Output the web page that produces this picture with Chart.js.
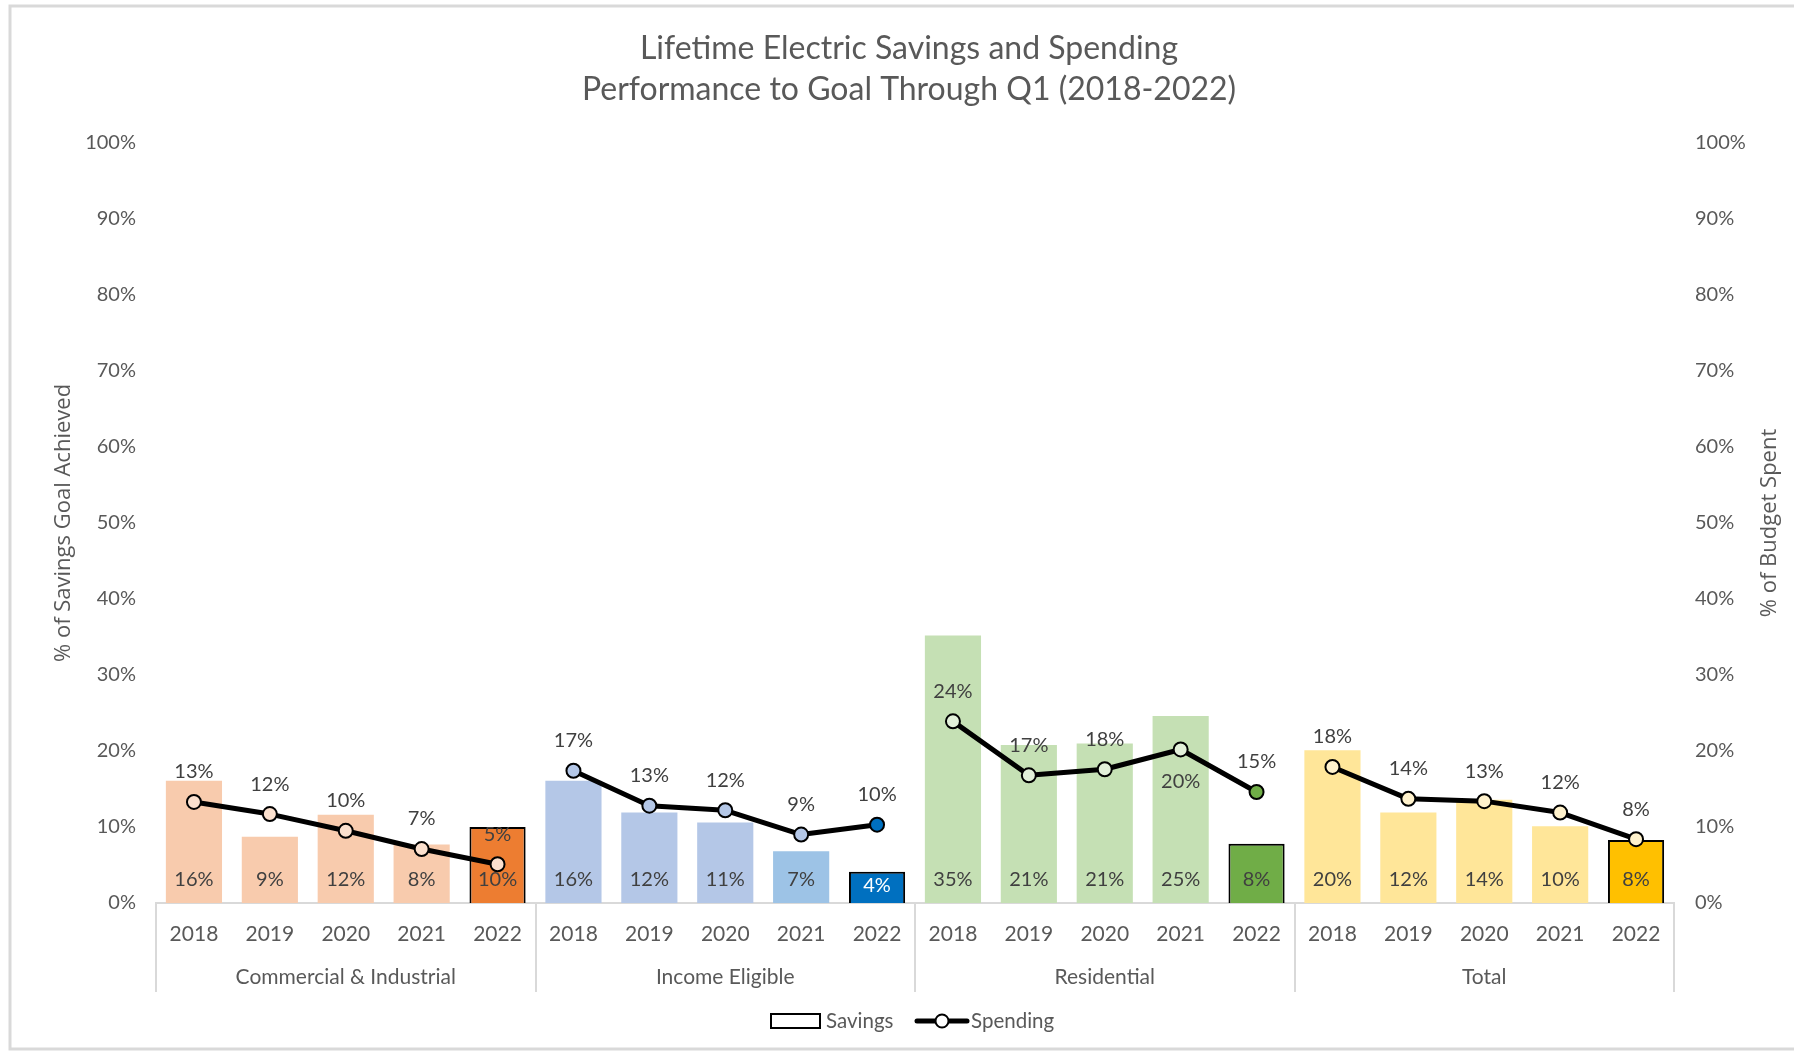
<!DOCTYPE html>
<html>
<head>
<meta charset="utf-8">
<title>Lifetime Electric Savings and Spending</title>
<script src="https://cdn.jsdelivr.net/npm/chart.js@4.4.1/dist/chart.umd.min.js"></script>
<style>
  html, body { margin: 0; padding: 0; background: #ffffff; }
  #wrap { width: 1794px; height: 1051px; }
</style>
</head>
<body>
<div id="wrap"><canvas id="chart" width="1794" height="1051"></canvas></div>
<script>
// Data (percent)
const groups = ['Commercial & Industrial', 'Income Eligible', 'Residential', 'Total'];
const years = ['2018', '2019', '2020', '2021', '2022'];
const savings = [
  16.1, 8.7, 11.6, 7.7, 10.0,
  16.1, 11.9, 10.6, 6.8, 4.1,
  35.2, 20.8, 21.0, 24.6, 7.8,
  20.1, 11.9, 13.6, 10.1, 8.3
];
const spending = [
  13.3, 11.7, 9.5, 7.1, 5.1,
  17.4, 12.8, 12.2, 9.0, 10.3,
  23.9, 16.8, 17.6, 20.2, 14.6,
  17.9, 13.7, 13.4, 11.9, 8.4
];

// Colours per group: past years light, current year dark
const lightFill = ['#F8CBAD', '#B4C7E7', '#C5E0B4', '#FFE699'];
const darkFill  = ['#ED7D31', '#0070C0', '#70AD47', '#FFC000'];
const markerLight = ['#FBE0CE', '#B4C7E7', '#E2F0D9', '#FFF2CC'];
const markerDark  = ['#FBE0CE', '#0070C0', '#70AD47', '#FFF2CC'];

const gray = '#595959';
const labelGray = '#404040';
const textFont = 'Lato, "Liberation Sans", sans-serif';
const titleFont = '"Open Sans", "DejaVu Sans", sans-serif';

const xLabels = groups.flatMap(() => years);
const last = years.length - 1;

const barColors = xLabels.map((_, i) => {
  const g = Math.floor(i / years.length), k = i % years.length;
  if (k === last) return darkFill[g];
  if (g === 1 && k === 3) return '#9DC3E6';
  return lightFill[g];
});
const barBorders = xLabels.map((_, i) => (i % years.length === last ? 2 : 0));
const pointFills = xLabels.map((_, i) => {
  const g = Math.floor(i / years.length);
  return i % years.length === last ? markerDark[g] : markerLight[g];
});

// light frame around the chart
const frame = {
  id: 'frame',
  beforeDraw(chart) {
    const ctx = chart.ctx;
    ctx.save();
    ctx.fillStyle = '#ffffff';
    ctx.fillRect(0, 0, chart.width, chart.height);
    ctx.strokeStyle = '#D9D9D9';
    ctx.lineWidth = 3;
    ctx.strokeRect(10, 6, chart.width + 20, chart.height - 8);
    ctx.restore();
  }
};

// second level of the category axis: group names and separators
const groupAxis = {
  id: 'groupAxis',
  afterDraw(chart) {
    const x = chart.scales.x;
    const ctx = chart.ctx;
    const w = (x.right - x.left) / groups.length;
    ctx.save();
    ctx.strokeStyle = '#D9D9D9';
    ctx.lineWidth = 2;
    for (let k = 0; k <= groups.length; k++) {
      const px = Math.round(x.left + k * w);
      ctx.beginPath();
      ctx.moveTo(px, x.top);
      ctx.lineTo(px, x.top + 89);
      ctx.stroke();
    }
    ctx.fillStyle = gray;
    ctx.font = '21px ' + textFont;
    ctx.textAlign = 'center';
    ctx.textBaseline = 'middle';
    groups.forEach((g, k) => ctx.fillText(g, x.left + (k + 0.5) * w, x.top + 74));
    ctx.restore();
  }
};

// value labels: savings inside base, spending above the markers
const valueLabels = {
  id: 'valueLabels',
  afterDatasetsDraw(chart) {
    const ctx = chart.ctx;
    ctx.save();
    ctx.font = '20px ' + textFont;
    ctx.textAlign = 'center';
    ctx.textBaseline = 'middle';
    chart.getDatasetMeta(1).data.forEach((bar, i) => {
      const h = bar.base - bar.y;
      ctx.fillStyle = (i === 9) ? '#ffffff' : labelGray;
      ctx.fillText(Math.round(savings[i]) + '%', bar.x, bar.base - Math.min(23, h / 2 + 2));
    });
    chart.getDatasetMeta(0).data.forEach((pt, i) => {
      ctx.fillStyle = labelGray;
      const dy = (i === 13) ? 32 : -30;
      ctx.fillText(Math.round(spending[i]) + '%', pt.x, pt.y + dy);
    });
    ctx.restore();
  }
};

// right axis title (reads bottom to top) and the legend
const extras = {
  id: 'extras',
  afterDraw(chart) {
    const ctx = chart.ctx;
    const area = chart.chartArea;
    ctx.save();
    ctx.fillStyle = gray;
    ctx.font = '22px ' + titleFont;
    ctx.textAlign = 'center';
    ctx.textBaseline = 'middle';
    ctx.translate(1770, (area.top + area.bottom) / 2);
    ctx.rotate(-Math.PI / 2);
    ctx.fillText('% of Budget Spent', 0, 0);
    ctx.restore();

    const ly = 1021;
    ctx.save();
    ctx.lineWidth = 2;
    ctx.strokeStyle = '#000000';
    ctx.fillStyle = '#ffffff';
    ctx.fillRect(771, ly - 7, 49, 14);
    ctx.strokeRect(771, ly - 7, 49, 14);
    ctx.font = '20.5px ' + textFont;
    ctx.fillStyle = gray;
    ctx.textAlign = 'left';
    ctx.textBaseline = 'middle';
    ctx.fillText('Savings', 826, ly);
    ctx.lineWidth = 5;
    ctx.lineCap = 'round';
    ctx.beginPath();
    ctx.moveTo(917, ly);
    ctx.lineTo(967, ly);
    ctx.stroke();
    ctx.beginPath();
    ctx.arc(942, ly, 6.5, 0, Math.PI * 2);
    ctx.fillStyle = '#ffffff';
    ctx.fill();
    ctx.lineWidth = 2;
    ctx.stroke();
    ctx.fillStyle = gray;
    ctx.fillText('Spending', 971, ly);
    ctx.restore();
  }
};

new Chart(document.getElementById('chart'), {
  data: {
    labels: xLabels,
    datasets: [
      {
        type: 'line',
        label: 'Spending',
        data: spending,
        yAxisID: 'y1',
        order: 0,
        borderColor: '#000000',
        borderWidth: 5,
        borderJoinStyle: 'round',
        tension: 0,
        pointRadius: 7,
        pointHoverRadius: 7,
        pointBorderWidth: 2,
        pointBorderColor: '#000000',
        pointBackgroundColor: pointFills,
        segment: {
          borderColor: c => (c.p0DataIndex % years.length === last ? 'rgba(0,0,0,0)' : '#000000')
        }
      },
      {
        type: 'bar',
        label: 'Savings',
        data: savings,
        yAxisID: 'y',
        order: 1,
        backgroundColor: barColors,
        borderColor: '#000000',
        borderWidth: barBorders,
        borderSkipped: 'bottom',
        barPercentage: 0.74,
        categoryPercentage: 1.0
      }
    ]
  },
  options: {
    responsive: false,
    animation: false,
    devicePixelRatio: 1,
    layout: { padding: { left: 24, right: 0, top: 0, bottom: 58.5 } },
    plugins: {
      legend: { display: false },
      tooltip: { enabled: false },
      title: {
        display: true,
        text: ['Lifetime Electric Savings and Spending', 'Performance to Goal Through Q1 (2018-2022)'],
        color: gray,
        font: { family: textFont, size: 32, weight: 'normal', lineHeight: 1.28 },
        padding: { top: 28.5, bottom: 32.5 }
      }
    },
    scales: {
      x: {
        type: 'category',
        position: 'bottom',
        grid: { display: true, drawOnChartArea: false, drawTicks: false },
        border: { display: true, color: '#D9D9D9', width: 2 },
        ticks: {
          color: gray,
          font: { family: textFont, size: 21 },
          padding: 18.5,
          autoSkip: false,
          maxRotation: 0
        },
        afterFit: s => { s.height = 89.5; }
      },
      y: {
        position: 'left',
        min: 0,
        max: 100,
        grid: { display: false },
        border: { display: false },
        ticks: {
          stepSize: 10,
          color: gray,
          font: { family: textFont, size: 20 },
          padding: 12,
          callback: v => v + '%'
        },
        title: {
          display: true,
          text: '% of Savings Goal Achieved',
          color: gray,
          font: { family: titleFont, size: 22 },
          padding: { top: 27, bottom: 0 }
        },
        afterFit: s => { s.width = 132; }
      },
      y1: {
        position: 'right',
        min: 0,
        max: 100,
        grid: { display: false },
        border: { display: false },
        ticks: {
          stepSize: 10,
          color: gray,
          font: { family: textFont, size: 20 },
          padding: 13,
          callback: v => v + '%'
        },
        afterFit: s => { s.width = 120; }
      }
    }
  },
  plugins: [frame, groupAxis, valueLabels, extras]
});
</script>
</body>
</html>
